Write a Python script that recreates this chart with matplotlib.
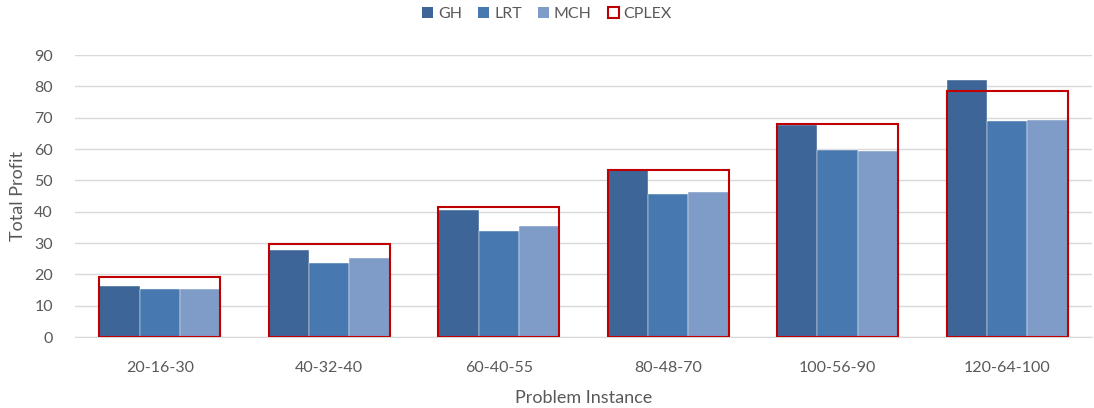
import matplotlib
matplotlib.use("Agg")
import matplotlib.pyplot as plt
import numpy as np
from matplotlib.patches import Patch

categories = ["20-16-30", "40-32-40", "60-40-55", "80-48-70", "100-56-90", "120-64-100"]
gh = [16.3, 27.8, 40.7, 53.6, 67.8, 81.9]
lrt = [15.2, 23.6, 34.0, 45.7, 59.7, 68.9]
mch = [15.4, 25.1, 35.3, 46.3, 59.5, 69.4]
cplex = [19.3, 29.7, 41.4, 53.4, 67.9, 78.5]

plt.rcParams['font.family'] = ['Lato', 'DejaVu Sans']
txt = '#595959'

fig = plt.figure(figsize=(10.94, 4.08), dpi=100)
ax = fig.add_axes([0.0686, 0.174, 0.9294, 0.691])

x = np.arange(len(categories))
w = 0.238
c_gh, c_lrt, c_mch, c_red = '#3D6597', '#4878B0', '#7F9CC8', '#C00000'

ax.bar(x - w, gh, w, color=c_gh, edgecolor='#FFFFFF', linewidth=0.3, zorder=2)
ax.bar(x, lrt, w, color=c_lrt, edgecolor='#FFFFFF', linewidth=0.3, zorder=2)
ax.bar(x + w, mch, w, color=c_mch, edgecolor='#FFFFFF', linewidth=0.3, zorder=2)
ax.bar(x, cplex, 3 * w, facecolor='none', edgecolor=c_red, linewidth=1.5, zorder=3)

ax.set_xlim(-0.5, len(categories) - 0.5)
ax.set_ylim(0, 90)
ax.set_yticks(range(0, 91, 10))
ax.set_xticks(x)
ax.set_xticklabels(categories)
ax.grid(axis='y', color='#D9D9D9', linewidth=1.0, zorder=0)
ax.set_axisbelow(True)
for s in ['top', 'right', 'left']:
    ax.spines[s].set_visible(False)
ax.spines['bottom'].set_color('#D9D9D9')
ax.tick_params(axis='both', length=0, labelsize=11.5, colors=txt)
ax.tick_params(axis='x', pad=17)
ax.tick_params(axis='y', pad=16)
ax.set_ylabel('Total Profit', fontsize=13, color=txt, labelpad=6)
ax.set_xlabel('Problem Instance', fontsize=13, color=txt, labelpad=11)

handles = [Patch(facecolor=c_gh), Patch(facecolor=c_lrt), Patch(facecolor=c_mch),
           Patch(facecolor='white', edgecolor=c_red, linewidth=1.5)]
leg = fig.legend(handles, ['GH', 'LRT', 'MCH', 'CPLEX'], loc='center', bbox_to_anchor=(0.5, 0.965),
                 ncol=4, frameon=False, fontsize=11.5, handlelength=0.7, handleheight=0.7,
                 handletextpad=0.3, columnspacing=1.0)
for t in leg.get_texts():
    t.set_color(txt)

fig.savefig('out.png', dpi=100)
